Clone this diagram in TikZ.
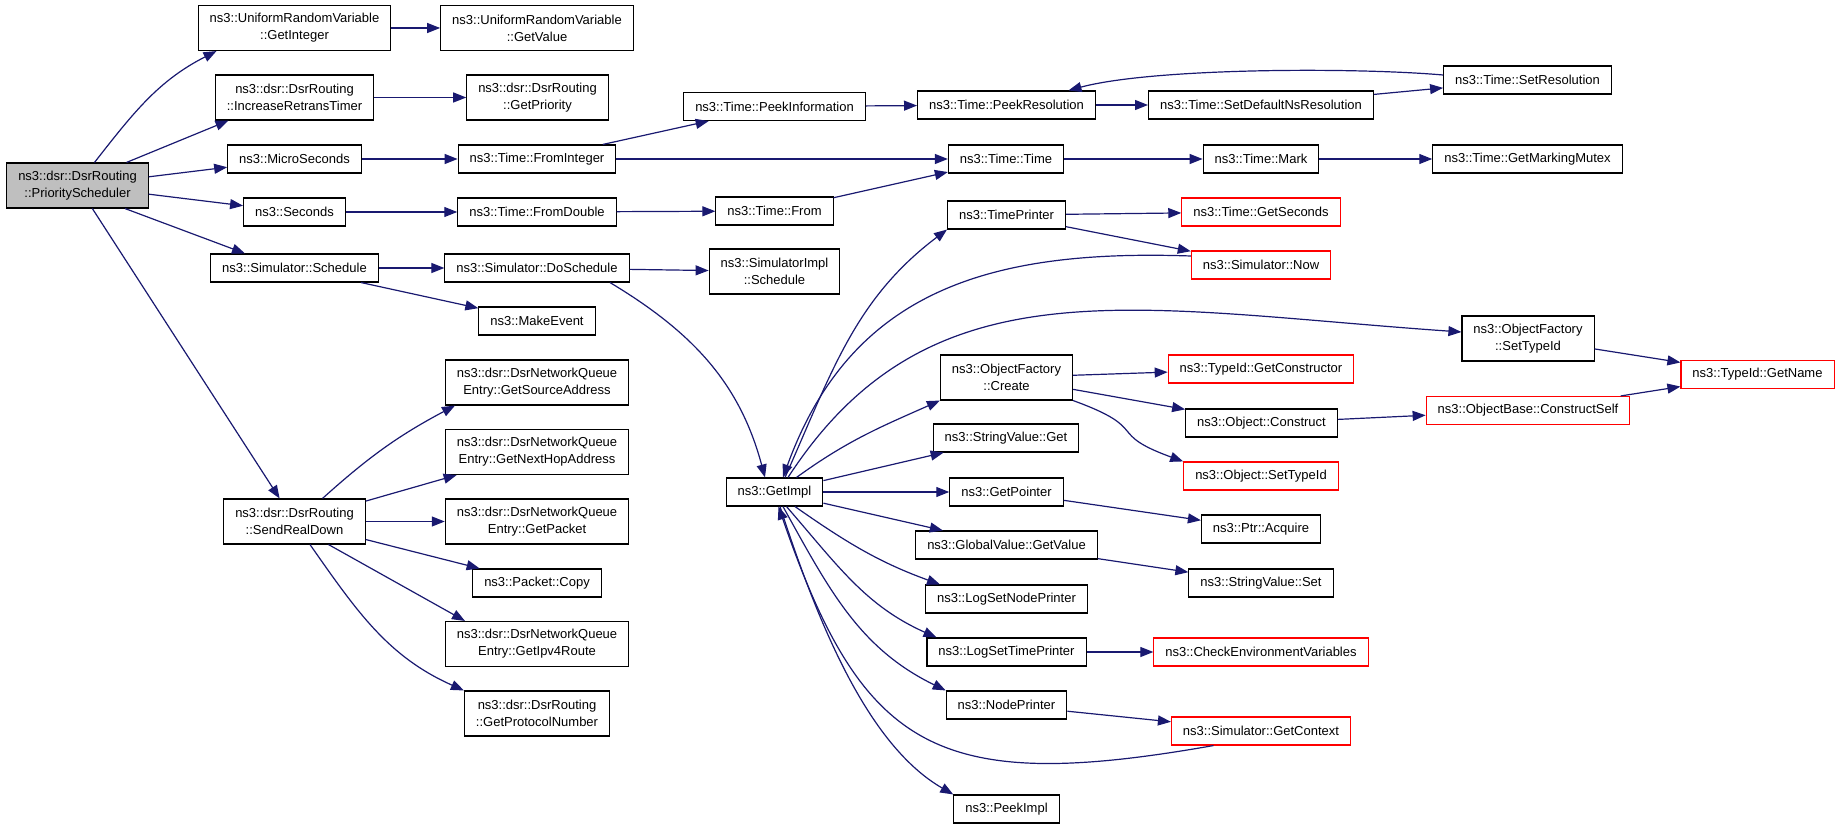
\documentclass[tikz,border=0pt]{standalone}
\usepackage{fontspec}
\setmainfont{Liberation Sans}
\usetikzlibrary{arrows.meta}
\definecolor{edgeblue}{HTML}{191970}
\definecolor{rootgray}{HTML}{BFBFBF}
\definecolor{truncred}{HTML}{FF0000}

\begin{document}
\begin{tikzpicture}[x=1pt,y=1pt,
    fn/.style={draw=black,line width=1.1pt,fill=white,inner xsep=11.5pt,inner ysep=0pt,
      minimum height=28pt,align=center,font=\fontsize{13}{17}\selectfont},
    fntwo/.style={fn,minimum height=45pt},
    fnred/.style={draw=truncred},
    fnroot/.style={fntwo,fill=rootgray},
    call/.style={draw=edgeblue,line width=1.2pt,-{Triangle[length=13pt,width=10pt]}}]
  \useasboundingbox (0,0) rectangle (1840,-829);

  % column 1 and 2
  \node[fnroot] (ps) at (77.5,-185.5) {ns3::dsr::DsrRouting\\::PriorityScheduler};
  \node[fntwo] (urvInt) at (294.5,-28) {ns3::UniformRandomVariable\\::GetInteger};
  \node[fntwo] (incTimer) at (294.5,-97.5) {ns3::dsr::DsrRouting\\::IncreaseRetransTimer};
  \node[fn] (micro) at (294.5,-159) {ns3::MicroSeconds};
  \node[fn] (secs) at (294.5,-212) {ns3::Seconds};
  \node[fn] (schedule) at (294.5,-268) {ns3::Simulator::Schedule};
  \node[fntwo] (sendDown) at (294.5,-521.5) {ns3::dsr::DsrRouting\\::SendRealDown};

  % column 3
  \node[fntwo] (urvVal) at (537,-28) {ns3::UniformRandomVariable\\::GetValue};
  \node[fntwo] (getPrio) at (537.5,-97.5) {ns3::dsr::DsrRouting\\::GetPriority};
  \node[fn] (fromInt) at (537,-159) {ns3::Time::FromInteger};
  \node[fn] (fromDbl) at (537,-212) {ns3::Time::FromDouble};
  \node[fn] (doSched) at (537,-268) {ns3::Simulator::DoSchedule};
  \node[fn] (makeEvt) at (537,-321) {ns3::MakeEvent};
  \node[fntwo] (srcAddr) at (537,-382.5) {ns3::dsr::DsrNetworkQueue\\Entry::GetSourceAddress};
  \node[fntwo] (nextHop) at (537,-452) {ns3::dsr::DsrNetworkQueue\\Entry::GetNextHopAddress};
  \node[fntwo] (getPkt) at (537,-521.5) {ns3::dsr::DsrNetworkQueue\\Entry::GetPacket};
  \node[fn] (pktCopy) at (537,-583) {ns3::Packet::Copy};
  \node[fntwo] (ipv4Route) at (537,-644) {ns3::dsr::DsrNetworkQueue\\Entry::GetIpv4Route};
  \node[fntwo] (protoNum) at (537,-713.5) {ns3::dsr::DsrRouting\\::GetProtocolNumber};

  % column 4
  \node[fn] (peekInfo) at (774.5,-106.5) {ns3::Time::PeekInformation};
  \node[fn] (timeFrom) at (774.5,-211) {ns3::Time::From};
  \node[fntwo] (implSched) at (774.5,-271.5) {ns3::SimulatorImpl\\::Schedule};
  \node[fn] (getImpl) at (774.5,-492) {ns3::GetImpl};

  % column 5
  \node[fn] (peekRes) at (1006.5,-105) {ns3::Time::PeekResolution};
  \node[fn] (timeCtor) at (1006,-159) {ns3::Time::Time};
  \node[fn] (timePrinter) at (1006.5,-215) {ns3::TimePrinter};
  \node[fntwo] (ofCreate) at (1006.5,-377.5) {ns3::ObjectFactory\\::Create};
  \node[fn] (svGet) at (1006,-438) {ns3::StringValue::Get};
  \node[fn] (getPtr) at (1006.5,-492) {ns3::GetPointer};
  \node[fn] (gvGetVal) at (1006.5,-545) {ns3::GlobalValue::GetValue};
  \node[fn] (logNode) at (1006.5,-599) {ns3::LogSetNodePrinter};
  \node[fn] (logTime) at (1006.5,-652) {ns3::LogSetTimePrinter};
  \node[fn] (nodePrinter) at (1006.5,-705) {ns3::NodePrinter};
  \node[fn] (peekImpl) at (1006.5,-809) {ns3::PeekImpl};

  % column 6
  \node[fn] (setDefRes) at (1261,-105) {ns3::Time::SetDefaultNsResolution};
  \node[fn] (timeMark) at (1261,-159) {ns3::Time::Mark};
  \node[fn,fnred] (getSecs) at (1261,-212) {ns3::Time::GetSeconds};
  \node[fn,fnred] (simNow) at (1261,-265) {ns3::Simulator::Now};
  \node[fn,fnred] (getCtor) at (1261,-369) {ns3::TypeId::GetConstructor};
  \node[fn] (objConstruct) at (1261.5,-423) {ns3::Object::Construct};
  \node[fn,fnred] (objSetTid) at (1261,-476) {ns3::Object::SetTypeId};
  \node[fn] (ptrAcquire) at (1261,-529) {ns3::Ptr::Acquire};
  \node[fn] (svSet) at (1261,-583) {ns3::StringValue::Set};
  \node[fn,fnred] (checkEnv) at (1261,-652) {ns3::CheckEnvironmentVariables};
  \node[fn,fnred] (getContext) at (1261,-731) {ns3::Simulator::GetContext};

  % column 7 and 8
  \node[fn] (setRes) at (1527.5,-80) {ns3::Time::SetResolution};
  \node[fn] (markMutex) at (1527.5,-159) {ns3::Time::GetMarkingMutex};
  \node[fntwo] (ofSetTid) at (1528,-338.5) {ns3::ObjectFactory\\::SetTypeId};
  \node[fn,fnred] (constructSelf) at (1528,-410.5) {ns3::ObjectBase::ConstructSelf};
  \node[fn,fnred] (getName) at (1757.5,-374.5) {ns3::TypeId::GetName};

  % straight calls
  \foreach \a/\b in {ps/micro,ps/secs,ps/sendDown,urvInt/urvVal,incTimer/getPrio,
      micro/fromInt,secs/fromDbl,schedule/doSched,schedule/makeEvt,fromInt/peekInfo,
      fromInt/timeCtor,fromDbl/timeFrom,timeFrom/timeCtor,doSched/implSched,
      peekInfo/peekRes,peekRes/setDefRes,setDefRes/setRes,timeCtor/timeMark,
      timeMark/markMutex,timePrinter/getSecs,timePrinter/simNow,getImpl/svGet,
      getImpl/getPtr,getImpl/gvGetVal,ofCreate/getCtor,ofCreate/objConstruct,
      getPtr/ptrAcquire,gvGetVal/svSet,logTime/checkEnv,nodePrinter/getContext,
      objConstruct/constructSelf,ofSetTid/getName,constructSelf/getName,
      sendDown/nextHop,sendDown/getPkt,sendDown/pktCopy}
    \draw[call] (\a) -- (\b);

  % bent calls
  \draw[call] ([xshift=17pt]ps.north) to[out=52,in=207] ([xshift=-78pt]urvInt.south);
  \draw[call] ([xshift=49pt]ps.north) -- ([xshift=-66pt]incTimer.south);
  \draw[call] ([xshift=47.5pt]ps.south) -- ([xshift=-49.5pt]schedule.north);
  \draw[call] ([xshift=28pt]sendDown.north) to[out=42,in=208] ([xshift=-82pt]srcAddr.south);
  \draw[call] ([xshift=34pt]sendDown.south) -- ([xshift=-72pt]ipv4Route.north);
  \draw[call] ([xshift=15.5pt]sendDown.south) to[out=-55,in=156] (protoNum.north west);
  \draw[call] ([xshift=73pt]doSched.south) to[out=-31,in=105] ([xshift=-9.5pt]getImpl.north);
  \draw[call] ([yshift=5pt]setRes.west) to[out=175,in=15,looseness=0.6] ([xshift=62pt]peekRes.north);
  \draw[call] ([yshift=9pt]simNow.west) to[out=178,in=70,looseness=1.1] ([xshift=8.5pt]getImpl.north);
  \draw[call] ([xshift=10.5pt]getImpl.north) to[out=66,in=217] (timePrinter.south west);
  \draw[call] ([xshift=13.5pt]getImpl.north) to[out=57,in=176,out distance=260pt,in distance=330pt] ([yshift=6.5pt]ofSetTid.west);
  \draw[call] ([xshift=22pt]getImpl.north) to[out=36,in=204] (ofCreate.south west);
  \draw[call] ([xshift=20.5pt]getImpl.south) to[out=-35,in=160] ([xshift=-66.5pt]logNode.north);
  \draw[call] ([xshift=12pt]getImpl.south) to[out=-49,in=156] ([xshift=-70pt]logTime.north);
  \draw[call] ([xshift=8.5pt]getImpl.south) to[out=-61,in=154] (nodePrinter.north west);
  \draw[call] ([xshift=5.5pt]getImpl.south) to[out=-72,in=150,out distance=120pt,in distance=100pt] (peekImpl.north west);
  \draw[call] ([xshift=-47.5pt]getContext.south) to[out=190,in=-71,out distance=280pt,in distance=260pt] ([xshift=4pt]getImpl.south);
  \draw[call] (ofCreate.south east) to[out=-20,in=160,looseness=1.7] (objSetTid.north west);
\end{tikzpicture}
\end{document}
